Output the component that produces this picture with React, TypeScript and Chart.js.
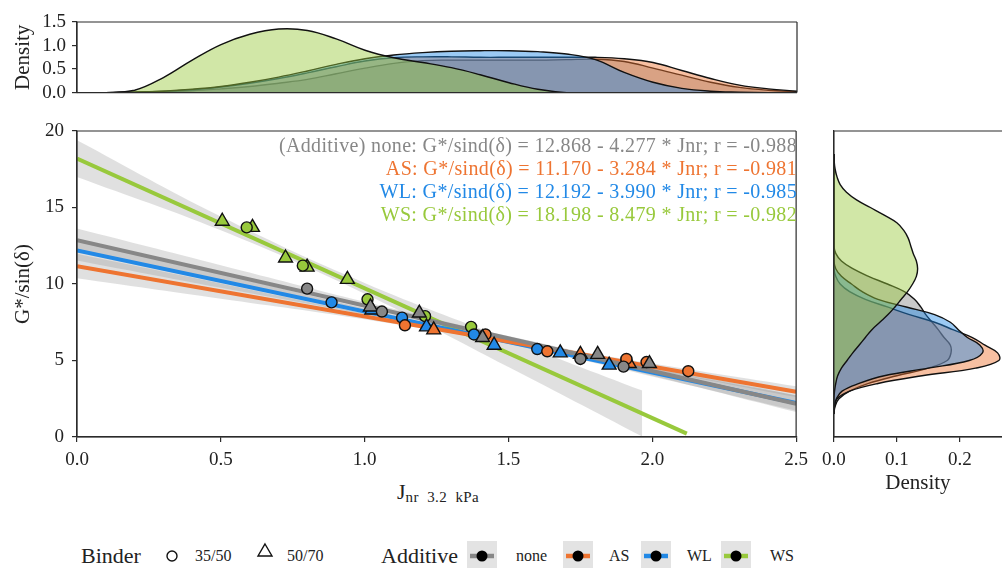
import React, { useEffect, useRef } from 'react';
import { Chart, registerables } from 'chart.js';
Chart.register(...registerables);

const FONT = '"Liberation Serif", "Times New Roman", serif';

// ---------- data ----------
const additives = ['none', 'AS', 'WL', 'WS'];
const additiveColors = ['#878787', '#EE7431', '#2289E6', '#98C93C'];

// scatter points: Jnr 3.2 kPa (x) and G*/sin(δ) (y), per additive and binder
const none3550J = [0.8, 1.06, 1.75, 1.9];
const none3550G = [9.7, 8.2, 5.1, 4.6];
const none5070J = [1.02, 1.19, 1.41, 1.81, 1.99];
const none5070G = [8.5, 8.1, 6.5, 5.4, 4.8];
const as3550J = [1.14, 1.42, 1.635, 1.91, 1.98, 2.125];
const as3550G = [7.3, 6.7, 5.6, 5.1, 4.9, 4.3];
const as5070J = [1.24, 1.75, 1.92];
const as5070G = [7.0, 5.4, 4.8];
const wl3550J = [0.885, 1.13, 1.38, 1.6, 1.91];
const wl3550G = [8.8, 7.8, 6.7, 5.75, 5.0];
const wl5070J = [1.025, 1.215, 1.45, 1.68, 1.85];
const wl5070G = [8.3, 7.2, 6.0, 5.5, 4.7];
const ws3550J = [0.59, 0.785, 1.01, 1.21, 1.37];
const ws3550G = [13.7, 11.2, 9.0, 7.9, 7.2];
const ws5070J = [0.505, 0.61, 0.725, 0.8, 0.94];
const ws5070G = [14.1, 13.7, 11.7, 11.1, 10.3];

// regression (from the printed equations)
const regIntercept = [12.868, 11.17, 12.192, 18.198];
const regSlope = [-4.277, -3.284, -3.99, -8.479];
const regR = [-0.988, -0.981, -0.985, -0.982];
const regXEnd = [2.5, 2.5, 2.5, 2.12];

// confidence bands
const bandX = [0, 0.5, 1.0, 1.5, 2.0, 2.5];
const noneUpper = [13.62, 11.23, 8.84, 6.6, 4.61, 2.73];
const noneLower = [12.12, 10.23, 8.34, 6.3, 4.01, 1.63];
const asUpper = [11.97, 10.03, 8.09, 6.36, 4.8, 3.31];
const asLower = [10.37, 9.03, 7.69, 6.12, 4.4, 2.61];
const wlUpper = [12.84, 10.65, 8.4, 6.33, 4.46, 2.72];
const wlLower = [11.54, 9.75, 8.0, 6.09, 3.96, 1.72];
const wsBandX = [0, 0.5, 1.0, 1.5, 1.965];
const wsUpper = [19.4, 14.41, 10.07, 6.38, 3.04];
const wsLower = [17.0, 13.51, 9.37, 4.58, 0.04];

// marginal density of Jnr (top)
const jGrid = [0, 0.1, 0.2, 0.3, 0.4, 0.5, 0.6, 0.7, 0.8, 0.9, 1.0, 1.1, 1.2, 1.3, 1.4, 1.5, 1.6, 1.7, 1.8, 1.9, 2.0, 2.1, 2.2, 2.3, 2.4, 2.5];
const topNone = [0, 0, 0.005, 0.02, 0.04, 0.08, 0.13, 0.2, 0.28, 0.4, 0.52, 0.62, 0.68, 0.69, 0.69, 0.69, 0.69, 0.7, 0.71, 0.66, 0.52, 0.37, 0.22, 0.11, 0.05, 0.02];
const topAS = [0, 0, 0.01, 0.03, 0.06, 0.12, 0.2, 0.3, 0.42, 0.55, 0.67, 0.74, 0.76, 0.76, 0.75, 0.75, 0.75, 0.75, 0.75, 0.72, 0.64, 0.47, 0.3, 0.16, 0.08, 0.03];
const topWL = [0, 0, 0.01, 0.03, 0.07, 0.13, 0.22, 0.33, 0.46, 0.6, 0.72, 0.8, 0.85, 0.88, 0.89, 0.89, 0.87, 0.82, 0.7, 0.43, 0.22, 0.09, 0.03, 0.01, 0, 0];
const topWS = [0, 0, 0.05, 0.32, 0.69, 1.02, 1.24, 1.35, 1.32, 1.14, 0.9, 0.74, 0.64, 0.53, 0.38, 0.21, 0.07, 0.0, 0, 0, 0, 0, 0, 0, 0, 0];

// marginal density of G*/sin(δ) (right)
const gGrid = [1.5, 2, 2.5, 3, 3.5, 4, 4.5, 5, 5.5, 6, 6.5, 7, 7.5, 8, 8.5, 9, 9.5, 10, 10.5, 11, 11.5, 12, 12.5, 13, 13.5, 14, 14.5, 15, 15.5, 16, 16.5, 17, 17.5, 18, 18.5];
const rightNone = [0, 0.002, 0.008, 0.025, 0.055, 0.1, 0.15, 0.18, 0.186, 0.185, 0.175, 0.166, 0.156, 0.146, 0.138, 0.128, 0.112, 0.085, 0.055, 0.03, 0.012, 0.003, 0, 0, 0, 0, 0, 0, 0, 0, 0, 0, 0, 0, 0];
const rightAS = [0, 0.001, 0.005, 0.025, 0.07, 0.14, 0.225, 0.262, 0.26, 0.24, 0.22, 0.19, 0.16, 0.12, 0.085, 0.05, 0.025, 0.01, 0.003, 0, 0, 0, 0, 0, 0, 0, 0, 0, 0, 0, 0, 0, 0, 0, 0];
const rightWL = [0, 0.001, 0.004, 0.013, 0.04, 0.08, 0.15, 0.215, 0.236, 0.232, 0.212, 0.198, 0.185, 0.16, 0.115, 0.07, 0.045, 0.028, 0.012, 0.003, 0, 0, 0, 0, 0, 0, 0, 0, 0, 0, 0, 0, 0, 0, 0];
const rightWS = [0, 0, 0, 0.001, 0.003, 0.006, 0.012, 0.021, 0.03, 0.04, 0.05, 0.06, 0.073, 0.086, 0.097, 0.107, 0.117, 0.125, 0.131, 0.133, 0.131, 0.126, 0.122, 0.118, 0.111, 0.1, 0.08, 0.058, 0.036, 0.02, 0.01, 0.005, 0.002, 0.0005, 0];

// ticks
const mainXTicks = [0, 0.5, 1.0, 1.5, 2.0, 2.5];
const mainYTicks = [0, 5, 10, 15, 20];
const topYTicks = [0, 0.5, 1.0, 1.5];
const rightXTicks = [0, 0.1, 0.2];

// ---------- helpers ----------
const AXIS_COLOR = '#2b2b2b';
const TEXT_COLOR = '#222';
const BAND_COLOR = 'rgba(140,140,140,0.27)';
const KDE_ALPHA = 0.45;

function hexA(hex: string, a: number) {
  const n = parseInt(hex.slice(1), 16);
  return `rgba(${(n >> 16) & 255},${(n >> 8) & 255},${n & 255},${a})`;
}

function pts(xs: number[], ys: number[]) {
  return xs.map((x, i) => ({ x, y: ys[i] }));
}

function fixedTicks(values: number[]) {
  return (scale: any) => {
    scale.ticks = values.map((v) => ({ value: v }));
  };
}

function framePlugin(sides: { top: boolean; right: boolean; bottom: boolean; left: boolean }) {
  return {
    id: 'frame',
    afterDatasetsDraw(chart: any) {
      const { ctx, chartArea: a } = chart;
      ctx.save();
      ctx.strokeStyle = AXIS_COLOR;
      ctx.lineWidth = 1.2;
      ctx.beginPath();
      if (sides.top) { ctx.moveTo(a.left, a.top); ctx.lineTo(a.right, a.top); }
      if (sides.right) { ctx.moveTo(a.right, a.top); ctx.lineTo(a.right, a.bottom); }
      if (sides.bottom) { ctx.moveTo(a.left, a.bottom); ctx.lineTo(a.right, a.bottom); }
      if (sides.left) { ctx.moveTo(a.left, a.top); ctx.lineTo(a.left, a.bottom); }
      ctx.stroke();
      ctx.restore();
    },
  };
}

const tickFont = { family: FONT, size: 19 };
const titleFont = { family: FONT, size: 21 };

function gridOpts() {
  return { drawOnChartArea: false, drawTicks: true, tickLength: 5, color: AXIS_COLOR, lineWidth: 1.2 };
}

const baseOptions = {
  responsive: false,
  animation: false as const,
  events: [] as any[],
  plugins: { legend: { display: false }, tooltip: { enabled: false } },
};

// ---------- charts ----------
function useChart(ref: React.RefObject<HTMLCanvasElement>, make: () => any) {
  useEffect(() => {
    if (!ref.current) return;
    const chart = new Chart(ref.current, make());
    return () => chart.destroy();
  }, []);
}

function topConfig() {
  const series = [topNone, topAS, topWL, topWS];
  return {
    type: 'line',
    data: {
      datasets: series.map((s, i) => ({
        data: pts(jGrid, s),
        borderColor: '#111',
        borderWidth: 1.4,
        backgroundColor: hexA(additiveColors[i], KDE_ALPHA),
        fill: 'origin',
        pointRadius: 0,
        tension: 0.4,
        order: 4 - i,
      })),
    },
    options: {
      ...baseOptions,
      layout: { padding: { left: 0, right: 18, top: 22, bottom: 12 } },
      scales: {
        x: { type: 'linear', min: 0, max: 2.5, display: false },
        y: {
          type: 'linear', min: 0, max: 1.5,
          afterBuildTicks: fixedTicks(topYTicks),
          afterFit: (s: any) => { s.width = 77; },
          grid: gridOpts(),
          border: { display: true, color: AXIS_COLOR, width: 1.2 },
          ticks: { font: tickFont, color: TEXT_COLOR, padding: 6, autoSkip: false, callback: (v: any) => Number(v).toFixed(1) },
          title: { display: true, text: 'Density', font: titleFont, color: TEXT_COLOR, padding: { top: 11, bottom: 0 } },
        },
      },
    },
    plugins: [framePlugin({ top: true, right: true, bottom: true, left: true })],
  };
}

function mainConfig() {
  const datasets: any[] = [];
  const bands = [
    [bandX, noneUpper, noneLower],
    [bandX, asUpper, asLower],
    [bandX, wlUpper, wlLower],
    [wsBandX, wsUpper, wsLower],
  ];
  bands.forEach(([bx, up, lo]) => {
    datasets.push({ data: pts(bx, up), fill: '+1', backgroundColor: BAND_COLOR, borderWidth: 0, pointRadius: 0, tension: 0.4, order: 3 });
    datasets.push({ data: pts(bx, lo), fill: false, borderWidth: 0, pointRadius: 0, tension: 0.4, order: 3 });
  });
  additives.forEach((_, i) => {
    const xe = regXEnd[i];
    datasets.push({
      data: [{ x: 0, y: regIntercept[i] }, { x: xe, y: regIntercept[i] + regSlope[i] * xe }],
      borderColor: additiveColors[i], borderWidth: 4, pointRadius: 0, fill: false, order: 2,
    });
  });
  const groups = [
    [none3550J, none3550G, 0, 'circle'], [none5070J, none5070G, 0, 'triangle'],
    [as3550J, as3550G, 1, 'circle'], [as5070J, as5070G, 1, 'triangle'],
    [wl3550J, wl3550G, 2, 'circle'], [wl5070J, wl5070G, 2, 'triangle'],
    [ws3550J, ws3550G, 3, 'circle'], [ws5070J, ws5070G, 3, 'triangle'],
  ] as any[];
  groups.forEach(([xs, ys, ci, style]) => {
    datasets.push({
      data: pts(xs, ys), showLine: false, pointStyle: style,
      pointRadius: style === 'circle' ? 5.5 : 8,
      pointBackgroundColor: additiveColors[ci], pointBorderColor: '#111', pointBorderWidth: 1.4,
      order: 1,
    });
  });
  return {
    type: 'line',
    data: { datasets },
    options: {
      ...baseOptions,
      layout: { padding: { left: 0, right: 18, top: 21, bottom: 0 } },
      scales: {
        x: {
          type: 'linear', min: 0, max: 2.5,
          afterBuildTicks: fixedTicks(mainXTicks),
          afterFit: (s: any) => { s.height = 33; },
          grid: gridOpts(),
          border: { display: true, color: AXIS_COLOR, width: 1.2 },
          ticks: { font: tickFont, color: TEXT_COLOR, padding: 7, maxRotation: 0, autoSkip: false, callback: (v: any) => Number(v).toFixed(1) },
        },
        y: {
          type: 'linear', min: 0, max: 20,
          afterBuildTicks: fixedTicks(mainYTicks),
          afterFit: (s: any) => { s.width = 77; },
          grid: gridOpts(),
          border: { display: true, color: AXIS_COLOR, width: 1.2 },
          ticks: { font: tickFont, color: TEXT_COLOR, padding: 8, autoSkip: false, callback: (v: any) => String(v) },
          title: { display: true, text: 'G*/sin(δ)', font: titleFont, color: TEXT_COLOR, padding: { top: 11, bottom: 0 } },
        },
      },
    },
    plugins: [framePlugin({ top: true, right: true, bottom: true, left: true })],
  };
}

function rightConfig() {
  const series = [rightNone, rightAS, rightWL, rightWS];
  return {
    type: 'line',
    data: {
      datasets: series.map((s, i) => ({
        data: gGrid.map((g, k) => ({ x: s[k], y: g })),
        borderColor: '#111',
        borderWidth: 1.4,
        backgroundColor: hexA(additiveColors[i], KDE_ALPHA),
        fill: 'origin',
        pointRadius: 0,
        tension: 0.4,
        order: 4 - i,
      })),
    },
    options: {
      ...baseOptions,
      indexAxis: 'y',
      layout: { padding: { left: 0, right: 0, top: 21, bottom: 0 } },
      scales: {
        x: {
          type: 'linear', min: 0, max: 0.267,
          afterBuildTicks: fixedTicks(rightXTicks),
          afterFit: (s: any) => { s.height = 63; },
          grid: gridOpts(),
          border: { display: true, color: AXIS_COLOR, width: 1.2 },
          ticks: { font: tickFont, color: TEXT_COLOR, padding: 7, maxRotation: 0, autoSkip: false, callback: (v: any) => Number(v).toFixed(1) },
          title: { display: true, text: 'Density', font: titleFont, color: TEXT_COLOR, padding: { top: 0, bottom: 4 } },
        },
        y: {
          type: 'linear', min: 0, max: 20,
          afterFit: (s: any) => { s.width = 17; },
          grid: { display: false },
          border: { display: true, color: AXIS_COLOR, width: 1.2 },
          ticks: { display: false },
        },
      },
    },
    plugins: [framePlugin({ top: true, right: false, bottom: true, left: true })],
  };
}

function eqText(i: number) {
  const label = i === 0 ? '(Additive) none' : additives[i];
  return `${label}: G*/sind(δ) = ${regIntercept[i].toFixed(3)} - ${(-regSlope[i]).toFixed(3)} * Jnr; r = ${regR[i].toFixed(3)}`;
}

function AdditiveKey({ left, color }: { left: number; color: string }) {
  return (
    <svg style={{ position: 'absolute', left, top: 541 }} width={30} height={30}>
      <rect x={0} y={0} width={30} height={30} fill="#e3e3e3" />
      <line x1={3} y1={15} x2={27} y2={15} stroke={color} strokeWidth={4.5} />
      <circle cx={15} cy={15} r={5.5} fill="#000" />
    </svg>
  );
}

export default function App() {
  const topRef = useRef<HTMLCanvasElement>(null);
  const mainRef = useRef<HTMLCanvasElement>(null);
  const rightRef = useRef<HTMLCanvasElement>(null);
  useChart(topRef, topConfig);
  useChart(mainRef, mainConfig);
  useChart(rightRef, rightConfig);

  const small = { position: 'absolute' as const, fontFamily: FONT, fontSize: 16, color: TEXT_COLOR, lineHeight: '20px', top: 546 };
  const big = { position: 'absolute' as const, fontFamily: FONT, fontSize: 22, color: TEXT_COLOR, lineHeight: '26px', top: 543 };

  return (
    <div style={{ position: 'fixed', left: 0, top: 0, width: 1002, height: 568, background: '#fff', overflow: 'hidden' }}>
      <canvas ref={topRef} width={815} height={110} style={{ position: 'absolute', left: 0, top: 0 }} />
      <canvas ref={mainRef} width={815} height={360} style={{ position: 'absolute', left: 0, top: 110 }} />
      <canvas ref={rightRef} width={187} height={390} style={{ position: 'absolute', left: 815, top: 110 }} />

      <div style={{ position: 'absolute', right: 205, top: 134, fontFamily: FONT, fontSize: 20, letterSpacing: '0.35px', lineHeight: '23px', textAlign: 'right', whiteSpace: 'pre' }}>
        {additives.map((_, i) => (
          <div key={i} style={{ color: additiveColors[i] }}>{eqText(i)}</div>
        ))}
      </div>

      <div style={{ position: 'absolute', left: 397, top: 479, fontFamily: FONT, color: TEXT_COLOR, whiteSpace: 'pre' }}>
        <span style={{ fontSize: 22 }}>J</span>
        <span style={{ fontSize: 15, letterSpacing: '0.4px', position: 'relative', top: 3 }}>{'nr  3.2  kPa'}</span>
      </div>

      <div style={{ ...big, left: 81 }}>Binder</div>
      <svg style={{ position: 'absolute', left: 160, top: 544 }} width={24} height={24}>
        <circle cx={12} cy={12} r={5} fill="none" stroke="#111" strokeWidth={1.4} />
      </svg>
      <div style={{ ...small, left: 195 }}>35/50</div>
      <svg style={{ position: 'absolute', left: 252, top: 540 }} width={26} height={24}>
        <polygon points="13,4 20,16 6,16" fill="none" stroke="#111" strokeWidth={1.4} />
      </svg>
      <div style={{ ...small, left: 287 }}>50/70</div>
      <div style={{ ...big, left: 381 }}>Additive</div>
      <AdditiveKey left={467} color={additiveColors[0]} />
      <div style={{ ...small, left: 516 }}>none</div>
      <AdditiveKey left={563} color={additiveColors[1]} />
      <div style={{ ...small, left: 609 }}>AS</div>
      <AdditiveKey left={641} color={additiveColors[2]} />
      <div style={{ ...small, left: 687 }}>WL</div>
      <AdditiveKey left={721} color={additiveColors[3]} />
      <div style={{ ...small, left: 770 }}>WS</div>
    </div>
  );
}
